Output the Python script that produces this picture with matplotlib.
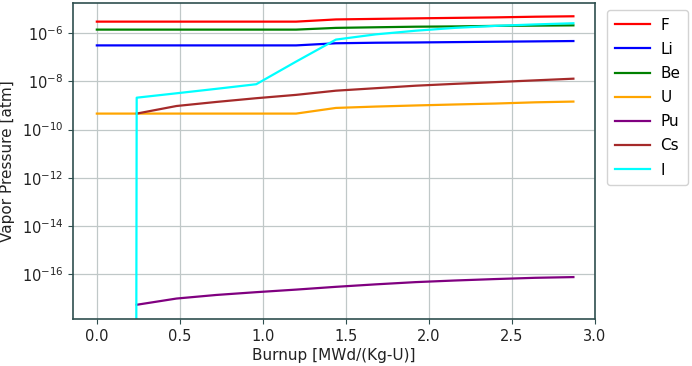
import numpy as np
import matplotlib
matplotlib.use("Agg")
import matplotlib.pyplot as plt
from matplotlib.ticker import NullLocator

# burnup grid [MWd/(Kg-U)]
burnup = [0.0, 0.24, 0.48, 0.72, 0.96, 1.2, 1.44, 1.68, 1.92, 2.16, 2.4, 2.64, 2.87]

# vapor pressures [atm]
F = [3.0e-6, 3.0e-6, 3.0e-6, 3.0e-6, 3.0e-6, 3.0e-6, 3.7e-6, 3.9e-6, 4.1e-6, 4.3e-6, 4.5e-6, 4.8e-6, 5.0e-6]
Li = [3.1e-7, 3.1e-7, 3.1e-7, 3.1e-7, 3.1e-7, 3.1e-7, 3.8e-7, 4.0e-7, 4.1e-7, 4.25e-7, 4.4e-7, 4.55e-7, 4.7e-7]
Be = [1.4e-6, 1.4e-6, 1.4e-6, 1.4e-6, 1.4e-6, 1.4e-6, 1.65e-6, 1.75e-6, 1.85e-6, 1.9e-6, 2.0e-6, 2.05e-6, 2.1e-6]
U = [4.6e-10, 4.6e-10, 4.6e-10, 4.6e-10, 4.6e-10, 4.6e-10, 7.9e-10, 9.0e-10, 1.0e-9, 1.1e-9, 1.2e-9, 1.35e-9, 1.45e-9]
Pu = [np.nan, 5.4e-18, 9.8e-18, 1.38e-17, 1.8e-17, 2.3e-17, 3.0e-17, 3.8e-17, 4.7e-17, 5.5e-17, 6.3e-17, 7.1e-17, 7.6e-17]
Cs = [np.nan, 4.6e-10, 9.5e-10, 1.4e-9, 2.0e-9, 2.75e-9, 4.1e-9, 5.2e-9, 6.6e-9, 7.9e-9, 9.3e-9, 1.1e-8, 1.29e-8]
I = [0.0, 2.1e-9, 3.2e-9, 4.9e-9, 7.6e-9, 6.6e-8, 5.4e-7, 8.9e-7, 1.26e-6, 1.66e-6, 2.0e-6, 2.3e-6, 2.57e-6]

series = [("F", F, "red"), ("Li", Li, "blue"), ("Be", Be, "green"), ("U", U, "orange"),
          ("Pu", Pu, "purple"), ("Cs", Cs, "brown"), ("I", I, "cyan")]

spine_col = "#2f4f4f"

fig = plt.figure(figsize=(6.92, 3.66), dpi=100)
ax = fig.add_axes([0.1055, 0.1276, 0.7543, 0.8642])

for name, vals, col in series:
    ax.plot(burnup, vals, color=col, lw=1.6, label=name)

ax.set_yscale("log")
ax.set_ylim(10 ** -17.87, 10 ** -4.75)
ax.set_xlim(-0.1435, 3.0)
ax.set_yticks([1e-16, 1e-14, 1e-12, 1e-10, 1e-8, 1e-6])
ax.yaxis.set_minor_locator(NullLocator())
ax.set_xticks([0.0, 0.5, 1.0, 1.5, 2.0, 2.5, 3.0])
ax.grid(True, color="#c0c8c8", lw=0.9)
ax.set_axisbelow(True)

for sp in ax.spines.values():
    sp.set_color(spine_col)
    sp.set_linewidth(1.2)
ax.tick_params(colors=spine_col, labelcolor="#222222", labelsize=10.5, length=3.5)

ax.set_xlabel("Burnup [MWd/(Kg-U)]", fontsize=11, color="#222222", labelpad=3)
ax.set_ylabel("Vapor Pressure [atm]", fontsize=11, color="#222222", labelpad=5)

leg = ax.legend(loc="upper left", bbox_to_anchor=(1.023, 0.978), borderaxespad=0,
                fontsize=11, handlelength=2.3, handletextpad=0.7, labelspacing=0.6,
                borderpad=0.5, fancybox=True, edgecolor="#c8c8c8")

fig.savefig("out.png", dpi=100)
